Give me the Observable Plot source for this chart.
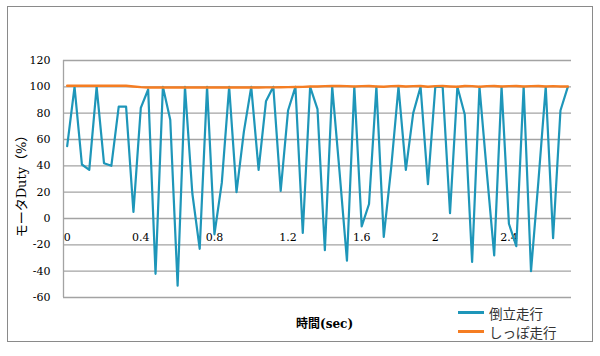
<!DOCTYPE html>
<html>
<head>
<meta charset="utf-8">
<script src="https://cdn.jsdelivr.net/npm/d3@7"></script>
<script src="https://cdn.jsdelivr.net/npm/@observablehq/plot@0.6"></script>
<style>
  body { margin: 0; background: white; }
  #wrap { position: relative; width: 600px; height: 356px; background: white; overflow: hidden; }
  #chart { position: absolute; left: 0; top: 0; }
  #chart svg text { font-family: "DejaVu Serif", "Liberation Serif", serif; }
  #frame { position: absolute; left: 7px; top: 6px; width: 584px; height: 334px; border: 1.5px solid #8a8a8a; pointer-events: none; }
  #ytitle { position: absolute; left: 20px; top: 183px; transform: translate(-50%, -50%) rotate(-90deg); white-space: nowrap;
            font-family: "DejaVu Serif", "Liberation Serif", "Noto Sans CJK JP", serif; font-size: 13px; color: #000; }
  #xtitle { position: absolute; left: 296px; top: 314px; white-space: nowrap; font-family: "DejaVu Serif", "Liberation Serif", "Noto Sans CJK JP", serif;
            font-size: 12px; font-weight: bold; color: #000; }
  #legend { position: absolute; left: 458px; top: 303px; font-family: "Noto Sans CJK JP"; font-size: 13.5px; color: #333; }
  .item { display: flex; align-items: center; height: 19px; }
  .sw { width: 26px; height: 2.5px; margin-right: 5px; }
</style>
</head>
<body>
<div id="wrap">
  <div id="chart"></div>
  <div id="frame"></div>
  <div id="ytitle">モータDuty（%）</div>
  <div id="xtitle">時間(sec)</div>
  <div id="legend"></div>
</div>
<script>
const seriesNames = ["倒立走行", "しっぽ走行"];
const seriesColors = ["#1e96b9", "#f57d22"];

const times = [0,0.04,0.08,0.12,0.16,0.2,0.24,0.28,0.32,0.36,0.4,0.44,0.48,0.52,0.56,0.6,0.64,0.68,0.72,0.76,
  0.8,0.84,0.88,0.92,0.96,1,1.04,1.08,1.12,1.16,1.2,1.24,1.28,1.32,1.36,1.4,1.44,1.48,1.52,1.56,
  1.6,1.64,1.68,1.72,1.76,1.8,1.84,1.88,1.92,1.96,2,2.04,2.08,2.12,2.16,2.2,2.24,2.28,2.32,2.36,
  2.4,2.44,2.48,2.52,2.56,2.6,2.64,2.68,2.72];

const invertedDuty = [55,100,41,37,100,42,40,85,85,5,
  84,98,-42,100,75,-51,100,19,-23,100,
  -12,27,100,20,66,100,37,89,100,21,
  82,100,-11,100,83,-24,100,35,-32,100,
  -6,11,100,-14,38,100,37,80,100,26,
  100,100,4,100,79,-33,100,35,-28,100,
  -4,-21,100,-40,28,100,-15,82,100];

const tailDuty = [100.8,100.8,100.8,100.8,100.8,100.8,100.8,100.8,100.8,100.3,
  99.8,99.5,99.5,99.5,99.5,99.5,99.5,99.5,99.5,99.5,
  99.5,99.5,99.5,99.5,99.5,99.5,99.5,99.6,99.6,99.7,
  99.8,99.9,100,100.2,100.3,100.5,100.6,100.6,100.5,100.2,
  100.5,100.6,100.3,100.1,100.5,100.6,100.2,100.5,100.6,100.1,
  100.5,100.6,100.3,100.1,100.6,100.5,100.1,100.5,100.6,100.2,
  100.5,100.6,100.2,100.5,100.6,100.2,100.5,100.3,100.2];

const xTicks = [0, 0.4, 0.8, 1.2, 1.6, 2, 2.4];
const yTicks = [-60, -40, -20, 0, 20, 40, 60, 80, 100, 120];
const xDomain = [-0.02, 2.74];
const yDomain = [-60, 120];

const rows = [];
times.forEach((t, i) => {
  rows.push({t, v: invertedDuty[i], s: seriesNames[0]});
});
times.forEach((t, i) => {
  rows.push({t, v: tailDuty[i], s: seriesNames[1]});
});

const chart = Plot.plot({
  width: 600,
  height: 356,
  marginLeft: 63,
  marginRight: 29,
  marginTop: 60,
  marginBottom: 59,
  style: {fontFamily: "'DejaVu Serif', 'Liberation Serif', serif", fontSize: "11px", color: "#000", background: "transparent"},
  x: {domain: xDomain, axis: null},
  y: {domain: yDomain},
  color: {domain: seriesNames, range: seriesColors},
  marks: [
    Plot.gridY(yTicks, {stroke: "#a3a3a3", strokeOpacity: 1, strokeWidth: 1.3}),
    Plot.ruleX([xDomain[0]], {stroke: "#a3a3a3", strokeWidth: 1.3}),
    Plot.axisY(yTicks, {tickSize: 0, tickPadding: 13, tickFormat: d => String(d), fontSize: 11, label: null}),
    Plot.text(xTicks, {x: d => d, y: 0, dy: 19, text: d => String(d), fontSize: 11, fill: "#000"}),
    Plot.line(rows.filter(r => r.s === seriesNames[0]), {x: "t", y: "v", stroke: "s", strokeWidth: 2.2}),
    Plot.line(rows.filter(r => r.s === seriesNames[1]), {x: "t", y: "v", stroke: "s", strokeWidth: 2.4})
  ]
});
document.getElementById("chart").appendChild(chart);

const legend = document.getElementById("legend");
seriesNames.forEach((n, i) => {
  const it = document.createElement("div");
  it.className = "item";
  const sw = document.createElement("div");
  sw.className = "sw";
  sw.style.background = seriesColors[i];
  const tx = document.createElement("span");
  tx.textContent = n;
  it.appendChild(sw);
  it.appendChild(tx);
  legend.appendChild(it);
});
</script>
</body>
</html>
